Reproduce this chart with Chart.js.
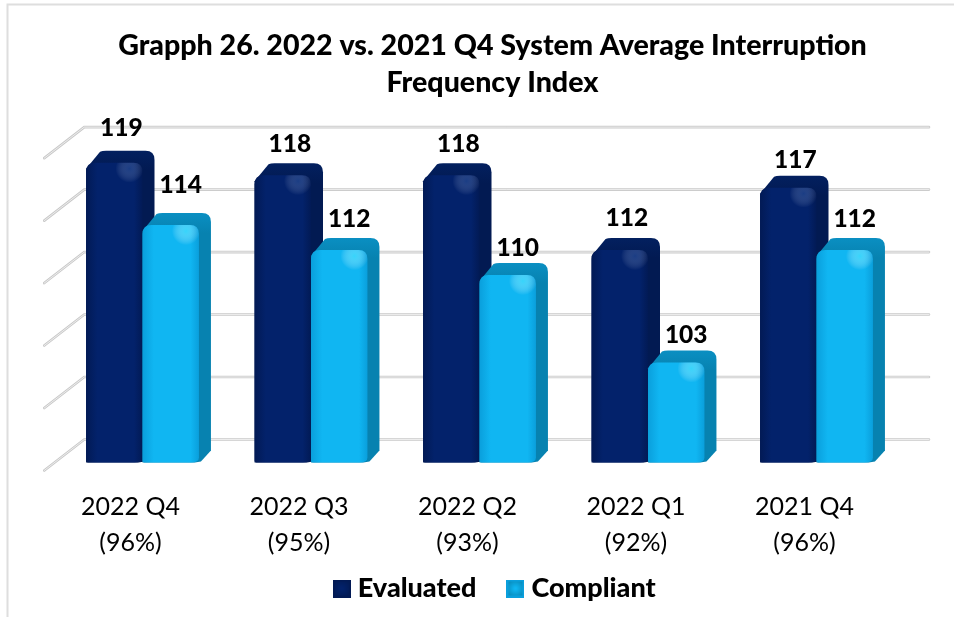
<!DOCTYPE html>
<html>
<head>
<meta charset="utf-8">
<style>html,body{margin:0;padding:0;background:#fff}canvas{display:block}</style>
<script src="https://cdn.jsdelivr.net/npm/chart.js@4/dist/chart.umd.min.js"></script>
</head>
<body>
<canvas id="c" width="954" height="617"></canvas>
<script>
const categories = [["2022 Q4","(96%)"],["2022 Q3","(95%)"],["2022 Q2","(93%)"],["2022 Q1","(92%)"],["2021 Q4","(96%)"]];
const evaluated = [119,118,118,112,117];
const compliant = [114,112,110,103,112];
const titleLines = ["Grapph 26. 2022 vs. 2021 Q4 System Average Interruption","Frequency Index"];

const FONT = "Lato, Carlito, sans-serif";
const depth = 12;
const palette = [
  {edge:"#021a55", mid:"#03226b", top:"#03205f", side:"#021a52", glow:"rgba(60,100,170,0.4)"},
  {edge:"#0a9fdc", mid:"#10b6f2", top:"#0a8fc2", side:"#0782b0", glow:"rgba(70,225,255,0.7)"}
];

function legendIcon(p){
  const s=18, c=document.createElement('canvas'); c.width=s; c.height=s;
  const x=c.getContext('2d');
  x.fillStyle=p.edge; x.fillRect(0,0,s,s);
  const g=x.createRadialGradient(s/2,s/2,1,s/2,s/2,s/2+2);
  g.addColorStop(0,p.mid); g.addColorStop(1,p.side);
  x.fillStyle=g; x.fillRect(2,2,s-4,s-4);
  return c;
}

function drawBar(ctx,b,p){
  const x0=b.x-b.width/2, x1=b.x+b.width/2, yT=b.y, yB=b.base, d=depth, r=9;
  ctx.beginPath();
  ctx.moveTo(x0,yT+6);
  ctx.lineTo(x0+d+2,yT-d+1);
  ctx.quadraticCurveTo(x0+d+4,yT-d,x0+d+8,yT-d);
  ctx.lineTo(x1+d-r,yT-d);
  ctx.quadraticCurveTo(x1+d,yT-d,x1+d,yT-d+r);
  ctx.lineTo(x1+d,yB-d);
  ctx.lineTo(x1+2,yB-1);
  ctx.lineTo(x1-4,yB);
  ctx.lineTo(x0,yB);
  ctx.closePath();
  const gs=ctx.createLinearGradient(0,yT-d,0,yT+8);
  gs.addColorStop(0,p.top); gs.addColorStop(1,p.side);
  ctx.fillStyle=gs; ctx.fill();
  ctx.beginPath();
  ctx.moveTo(x0,yB-2);
  ctx.lineTo(x0,yT+r);
  ctx.quadraticCurveTo(x0,yT,x0+r,yT);
  ctx.lineTo(x1-r,yT);
  ctx.quadraticCurveTo(x1,yT,x1,yT+r);
  ctx.lineTo(x1,yB-5);
  ctx.quadraticCurveTo(x1,yB,x1-8,yB);
  ctx.lineTo(x0+3,yB);
  ctx.quadraticCurveTo(x0,yB,x0,yB-2);
  ctx.closePath();
  const g=ctx.createLinearGradient(x0,0,x1,0);
  g.addColorStop(0,p.edge); g.addColorStop(0.2,p.mid); g.addColorStop(0.85,p.mid); g.addColorStop(1,p.edge);
  ctx.fillStyle=g; ctx.fill();
  const gx=x1-13, gy=yT+6, hl=ctx.createRadialGradient(gx,gy,0,gx,gy,14);
  hl.addColorStop(0,p.glow); hl.addColorStop(1,"rgba(255,255,255,0)");
  ctx.save(); ctx.clip();
  ctx.fillStyle=hl; ctx.fillRect(gx-14,gy-14,28,28);
  ctx.restore();
}

const wall3d = {
  id:'wall3d',
  afterLayout(chart){
    chart.titleBlock.left+=13; chart.titleBlock.right+=13;
    chart.legend.left+=18; chart.legend.right+=18;
    chart.legend.top-=40; chart.legend.bottom-=40;
  },
  beforeDatasetsDraw(chart){
    const ctx=chart.ctx, ys=chart.scales.y, area=chart.chartArea;
    const backDx=26, backDy=-23, frontDx=-14, frontDy=8, rightEnd=929;
    ctx.save();
    ctx.lineCap='round';
    ys.ticks.forEach(t=>{
      const y=ys.getPixelForValue(t.value);
      const path=()=>{ctx.beginPath();ctx.moveTo(area.left+frontDx,y+frontDy);ctx.lineTo(area.left+backDx,y+backDy);ctx.lineTo(rightEnd,y+backDy);ctx.stroke();};
      ctx.strokeStyle='#c9c9c9';ctx.lineWidth=2.6;path();
      ctx.strokeStyle='#f0f0f0';ctx.lineWidth=0.9;path();
    });
    ctx.restore();
    chart.data.datasets.forEach((ds,di)=>{
      chart.getDatasetMeta(di).data.forEach(el=>{
        drawBar(ctx,el.getProps(['x','y','base','width'],true),palette[di]);
      });
    });
    ctx.save();
    ctx.fillStyle='#000';ctx.font='900 24.5px '+FONT;ctx.textAlign='center';ctx.textBaseline='middle';
    chart.data.datasets.forEach((ds,di)=>{
      chart.getDatasetMeta(di).data.forEach((el,i)=>{
        const b=el.getProps(['x','y'],true);
        const lift=chart.options.plugins.wall3d.labelLift[di][i];
        ctx.fillText(ds.data[i],b.x+(di?10:7),b.y-depth-lift);
      });
    });
    ctx.restore();
    return false;
  },
  afterDraw(chart){
    const ctx=chart.ctx;
    ctx.save();ctx.strokeStyle='#dedede';ctx.lineWidth=2;
    ctx.beginPath();ctx.moveTo(954,4.5);ctx.lineTo(7.5,4.5);ctx.lineTo(7.5,617);ctx.stroke();ctx.restore();
  }
};

new Chart(document.getElementById('c'),{
  type:'bar',
  plugins:[wall3d],
  data:{labels:categories,datasets:[
    {label:'Evaluated',data:evaluated,base:95,backgroundColor:palette[0].mid,pointStyle:legendIcon(palette[0])},
    {label:'Compliant',data:compliant,base:95,backgroundColor:palette[1].mid,pointStyle:legendIcon(palette[1])}
  ]},
  options:{
    responsive:false,animation:false,
    layout:{padding:{left:58.25,right:53.25,top:28,bottom:-35}},
    datasets:{bar:{categoryPercentage:0.67,barPercentage:1}},
    scales:{
      x:{grid:{display:false},border:{display:false},
         ticks:{color:'#000',font:{family:FONT,size:25,lineHeight:1.44},labelOffset:-12,padding:18,maxRotation:0}},
      y:{display:true,min:95,max:120,grid:{display:false},border:{display:false},
         ticks:{stepSize:5,display:false},afterFit(s){s.width=0;}}
    },
    plugins:{
      wall3d:{labelLift:[[23,19,19,20,16],[28,19,15,15,19]]},
      title:{display:true,text:titleLines,color:'#000',font:{family:FONT,size:28.6,weight:'900',lineHeight:1.27},padding:{top:0,bottom:49.5}},
      legend:{position:'bottom',onClick:null,
        labels:{usePointStyle:true,pointStyleWidth:5,color:'#000',font:{family:FONT,size:27,weight:'900'},padding:36.5}},
      tooltip:{enabled:false}
    }
  }
});
</script>
</body>
</html>
